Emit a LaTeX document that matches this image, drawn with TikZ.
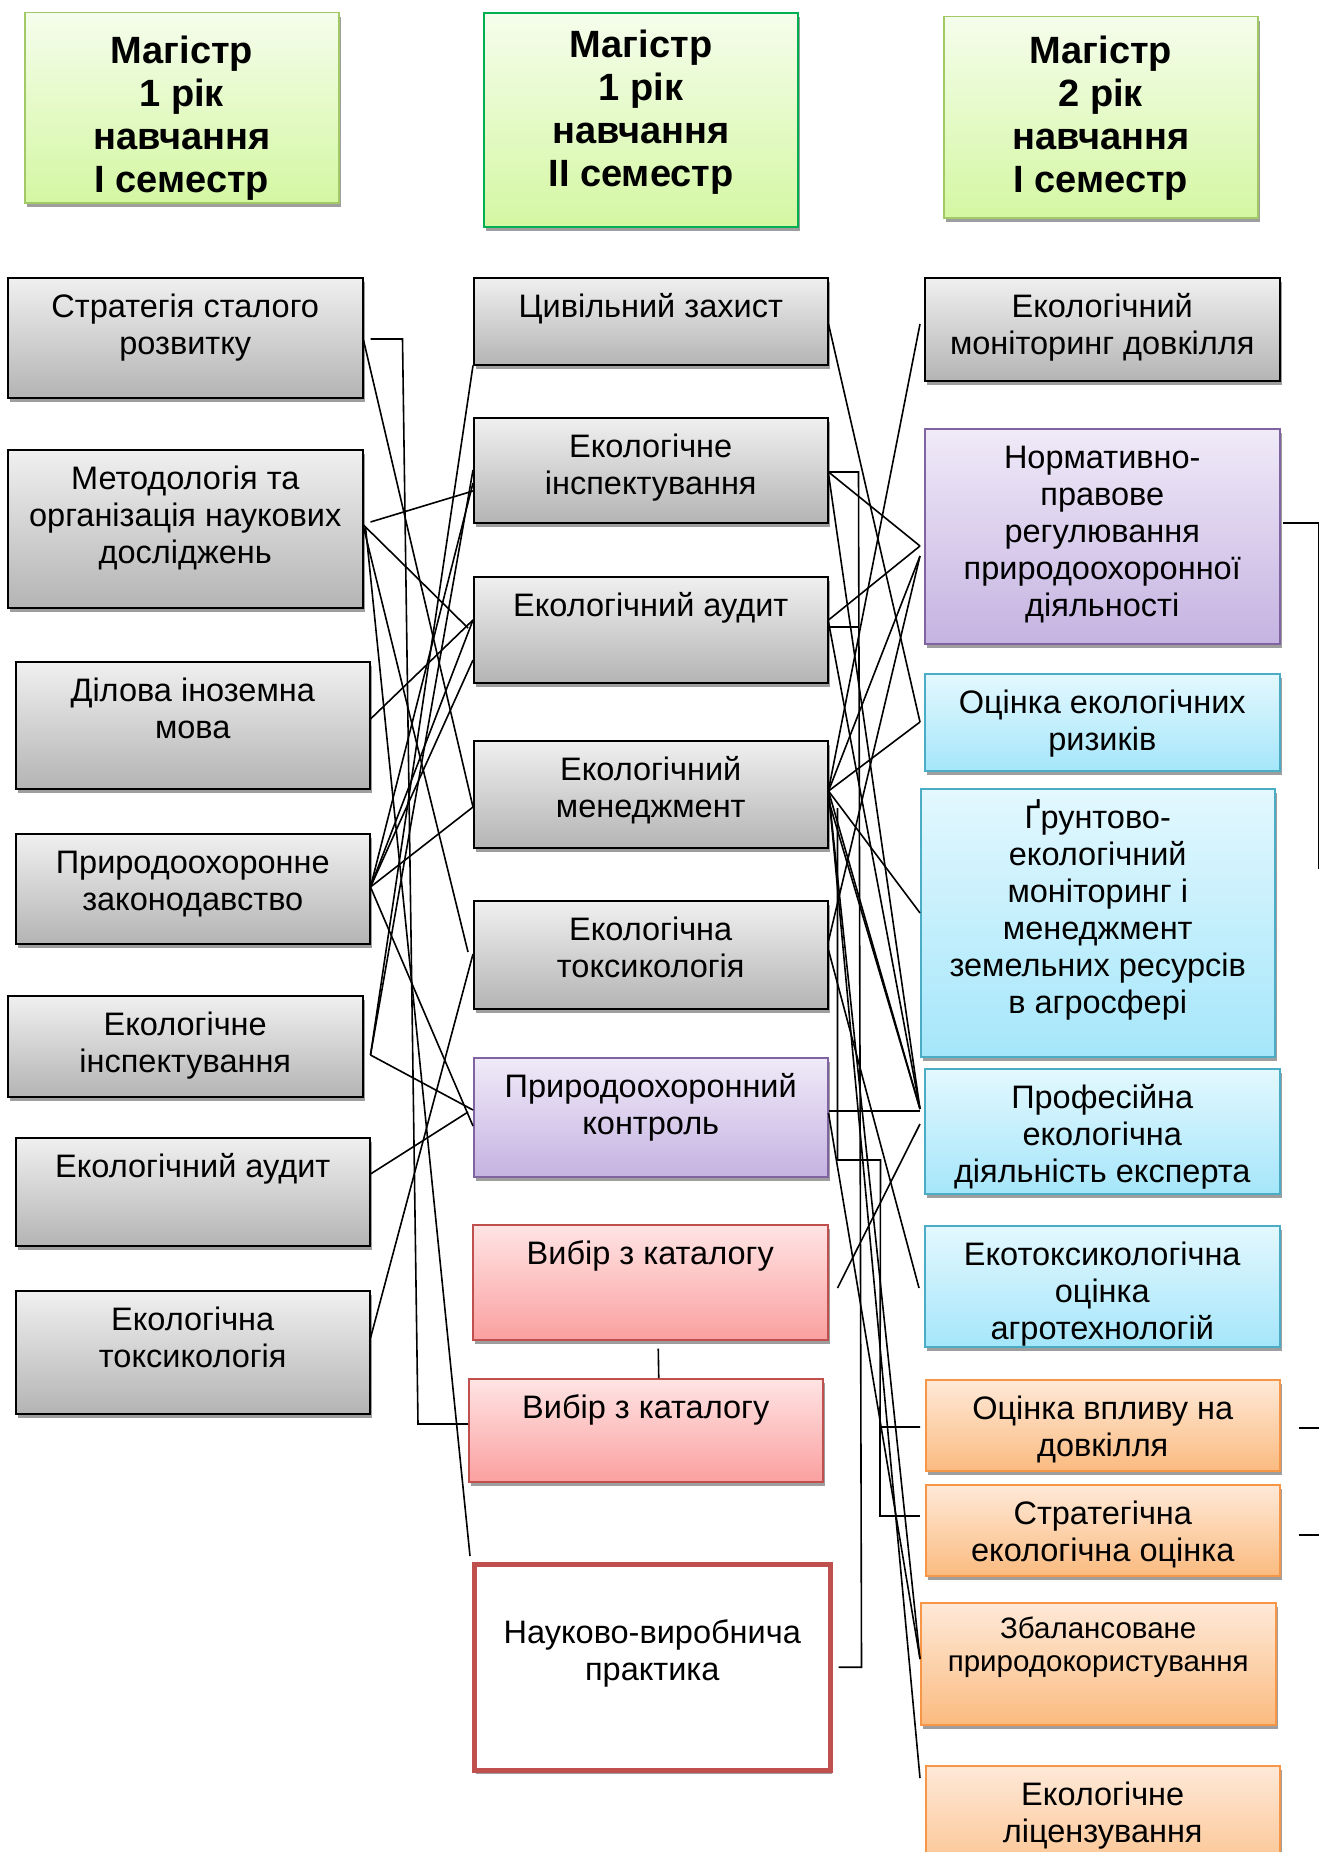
\documentclass[tikz,border=0pt]{standalone}
\usepackage{fontspec}
\setmainfont{Liberation Sans}
\usetikzlibrary{shadows}

\definecolor{greytop}{HTML}{F0F0F0}
\definecolor{greybot}{HTML}{B4B4B4}
\definecolor{greentop}{HTML}{F5FDEC}
\definecolor{greenbot}{HTML}{D4F7A2}
\definecolor{greenline}{HTML}{A3C866}
\definecolor{greenbright}{HTML}{00B050}
\definecolor{lilactop}{HTML}{F0EAF8}
\definecolor{lilacbot}{HTML}{C5B3E1}
\definecolor{lilacline}{HTML}{8064A2}
\definecolor{skytop}{HTML}{E3F8FE}
\definecolor{skybot}{HTML}{A5E6FA}
\definecolor{skyline}{HTML}{4BACC6}
\definecolor{rosetop}{HTML}{FFE4E4}
\definecolor{rosebot}{HTML}{FBA0A0}
\definecolor{roseline}{HTML}{C0504D}
\definecolor{peachtop}{HTML}{FEE9D8}
\definecolor{peachbot}{HTML}{FBBB80}
\definecolor{peachline}{HTML}{F79646}

% text of a box: top aligned, first baseline #1 below the top
\newcommand{\cbox}[4][40pt]{\parbox[c][#3][t]{#2}{\centering\rule{0pt}{#1}#4}}

\tikzset{
  course/.style={rectangle, inner sep=0pt, anchor=north west, line width=1.5pt,
    font=\fontsize{32.5}{37}\selectfont,
    drop shadow={shadow xshift=2pt, shadow yshift=-4pt, fill=black!38, opacity=1}},
  greybox/.style={course, draw=black, top color=greytop, bottom color=greybot},
  lilacbox/.style={course, draw=lilacline, top color=lilactop, bottom color=lilacbot},
  skybox/.style={course, draw=skyline, top color=skytop, bottom color=skybot},
  rosebox/.style={course, draw=roseline, top color=rosetop, bottom color=rosebot},
  peachbox/.style={course, draw=peachline, top color=peachtop, bottom color=peachbot},
  practicebox/.style={course, draw=roseline, fill=white, line width=4.5pt},
  yearbox/.style={course, draw=greenline, top color=greentop, bottom color=greenbot,
    font=\bfseries\fontsize{38}{43}\selectfont},
  link/.style={line width=1.6pt}
}

\begin{document}
\begin{tikzpicture}[x=1pt,y=-1pt]
\useasboundingbox (0,0) rectangle (1319,1852);

% headers
\node[yearbox] (H1) at (24,12) {\cbox[51pt]{314pt}{190pt}{Магістр\\1 рік\\навчання\\І семестр}};
\node[yearbox, draw=greenbright, line width=2pt] (H2) at (483,12) {\cbox[44pt]{314pt}{214pt}{Магістр\\1 рік\\навчання\\ІІ семестр}};
\node[yearbox] (H3) at (943,16) {\cbox[47pt]{314pt}{201pt}{Магістр\\2 рік\\навчання\\І семестр}};

% first semester
\node[greybox] (L1) at (7,277) {\cbox{355pt}{120pt}{Стратегія сталого\\розвитку}};
\node[greybox] (L2) at (7,449) {\cbox{355pt}{158pt}{Методологія та\\організація наукових\\досліджень}};
\node[greybox] (L3) at (15,661) {\cbox{354pt}{127pt}{Ділова іноземна\\мова}};
\node[greybox] (L4) at (15,833) {\cbox{354pt}{110pt}{Природоохоронне\\законодавство}};
\node[greybox] (L5) at (7,995) {\cbox{355pt}{101pt}{Екологічне\\інспектування}};
\node[greybox] (L6) at (15,1137) {\cbox{354pt}{108pt}{Екологічний аудит}};
\node[greybox] (L7) at (15,1290) {\cbox{354pt}{123pt}{Екологічна\\токсикологія}};

% second semester
\node[greybox] (M1) at (473,277) {\cbox{354pt}{87pt}{Цивільний захист}};
\node[greybox] (M2) at (473,417) {\cbox{354pt}{105pt}{Екологічне\\інспектування}};
\node[greybox] (M3) at (473,576) {\cbox{354pt}{106pt}{Екологічний аудит}};
\node[greybox] (M4) at (473,740) {\cbox{354pt}{107pt}{Екологічний\\менеджмент}};
\node[greybox] (M5) at (473,900) {\cbox{354pt}{108pt}{Екологічна\\токсикологія}};
\node[lilacbox] (M6) at (473,1057) {\cbox{354pt}{119pt}{Природоохоронний\\контроль}};
\node[rosebox] (M7) at (472,1224) {\cbox{355pt}{115pt}{Вибір з каталогу}};
\node[rosebox] (M8) at (468,1378) {\cbox{354pt}{103pt}{Вибір з каталогу}};
\node[practicebox] (M9) at (472,1562) {\cbox[79pt]{356pt}{206pt}{Науково-виробнича\\практика}};

% third semester
\node[greybox] (R1) at (924,277) {\cbox{355pt}{103pt}{Екологічний\\моніторинг довкілля}};
\node[lilacbox] (R2) at (924,428) {\cbox{355pt}{215pt}{Нормативно-\\правове\\регулювання\\природоохоронної\\діяльності}};
\node[skybox] (R3) at (924,673) {\cbox{355pt}{97pt}{Оцінка екологічних\\ризиків}};
\node[skybox] (R4) at (920,788) {\cbox{354pt}{268pt}{Ґрунтово-\\екологічний\\моніторинг і\\менеджмент\\земельних ресурсів\\в агросфері}};
\node[skybox] (R5) at (924,1068) {\cbox{355pt}{125pt}{Професійна\\екологічна\\діяльність експерта}};
\node[skybox] (R6) at (924,1225) {\cbox{355pt}{121pt}{Екотоксикологічна\\оцінка\\агротехнологій}};
\node[peachbox] (R7) at (925,1379) {\cbox{354pt}{91pt}{Оцінка впливу на\\довкілля}};
\node[peachbox] (R8) at (925,1484) {\cbox{354pt}{91pt}{Стратегічна\\екологічна оцінка}};
\node[peachbox, font=\fontsize{29.5}{33}\selectfont] (R9) at (920,1602) {\cbox[36pt]{355pt}{122pt}{Збалансоване\\природокористування}};
\node[peachbox] (R10) at (925,1765) {\cbox{354pt}{130pt}{Екологічне\\ліцензування}};

% links first -> second semester
\draw[link] ([yshift=-63pt]L1.north east) -- ([yshift=-67pt]M4.north west);
\draw[link] ([xshift=7pt,yshift=-62pt]L1.north east) -- ++(32,0) -- ([xshift=-50pt,yshift=-46pt]M8.north west) -- ([yshift=-46pt]M8.north west);
\draw[link] ([xshift=7pt,yshift=-73pt]L2.north east) -- ([yshift=-74pt]M2.north west);
\draw[link] ([yshift=-76pt]L2.north east) -- ([xshift=-5pt,yshift=-52pt]M3.north west);
\draw[link] ([yshift=-78pt]L2.north east) -- ([xshift=-5pt,yshift=-52pt]M5.north west);
\draw[link] ([xshift=2pt,yshift=-78pt]L2.north east) -- ([xshift=-2pt,yshift=6pt]M9.north west);
\draw[link] ([yshift=-58pt]L3.north east) -- ([yshift=-44pt]M3.north west);
\foreach \target/\dy in {M2/-66pt, M3/-44pt, M3/-84pt, M4/-67pt, M6/-69pt}
  \draw[link] ([yshift=-54pt]L4.north east) -- ([yshift=\dy]\target.north west);
\draw[link] ([xshift=7pt,yshift=-60pt]L5.north east) -- (M1.south west);
\draw[link] ([xshift=7pt,yshift=-60pt]L5.north east) -- ([yshift=-53pt]M2.north west);
\draw[link] ([xshift=7pt,yshift=-60pt]L5.north east) -- ([yshift=-53pt]M6.north west);
\draw[link] ([yshift=-37pt]L6.north east) -- ([xshift=-5pt,yshift=-55pt]M6.north west);
\draw[link] ([yshift=-48pt]L7.north east) -- ([yshift=-54pt]M5.north west);
\draw[link] ([xshift=8pt,yshift=-8pt]M7.south) -- ([xshift=13pt]M8.north);

% links second -> third semester
\draw[link] ([yshift=-47pt]M1.north east) -- ([xshift=-4pt,yshift=-49pt]R3.north west);
\draw[link] ([xshift=-4pt,yshift=-47pt]R1.north west) -- ([yshift=-50pt]M4.north east);
\draw[link] ([yshift=-55pt]M2.north east) -- ([xshift=-4pt,yshift=-118pt]R2.north west);
\draw[link] ([yshift=-57pt]M2.north east) -- ([xshift=-4pt,yshift=-41pt]R5.north west);
\draw[link] ([yshift=-55pt]M2.north east) -- ++(30,0) -- ([xshift=29pt]M9.east) -- ([xshift=6pt]M9.east);
\draw[link] ([yshift=-51pt]M3.north east) -- ++(30,0);
\draw[link] ([yshift=-44pt]M3.north east) -- ([xshift=-4pt,yshift=-118pt]R2.north west);
\draw[link] ([yshift=-46pt]M3.north east) -- ([xshift=-4pt,yshift=-41pt]R5.north west);
\foreach \target/\dx/\dy in {R2/-4pt/-128pt, R3/-4pt/-49pt, R4/0pt/-125pt, R5/-4pt/-41pt, R9/0pt/-57pt, R10/-5pt/-13pt}
  \draw[link] ([yshift=-51pt]M4.north east) -- ([xshift=\dx,yshift=\dy]\target.north west);
\draw[link] ([yshift=-60pt]M4.north east) -- ([xshift=-4pt,yshift=-41pt]R5.north west);
\draw[link] ([xshift=9pt,yshift=-68pt]M4.north east) -- ([xshift=9pt,yshift=-420pt]M4.north east) -- ++(43,0)
  -- ([xshift=-45pt,yshift=-48pt]R7.north west) -- ([xshift=-5pt,yshift=-48pt]R7.north west);
\draw[link] ([xshift=-45pt,yshift=-48pt]R7.north west) -- ([xshift=-45pt,yshift=-32pt]R8.north west) -- ([xshift=-5pt,yshift=-32pt]R8.north west);
\draw[link] ([yshift=-41pt]M5.north east) -- ([xshift=-4pt,yshift=-128pt]R2.north west);
\draw[link] ([yshift=-50pt]M5.north east) -- ([xshift=-5pt,yshift=-63pt]R6.north west);
\draw[link] ([yshift=-54pt]M6.north east) -- ([xshift=-4pt,yshift=-43pt]R5.north west);
\draw[link] ([yshift=-56pt]M6.north east) -- ([yshift=-57pt]R9.north west);
\draw[link] ([xshift=9pt,yshift=-64pt]M7.north east) -- ([xshift=-4pt,yshift=-56pt]R5.north west);

% links leaving the picture
\draw[link] ([xshift=2pt,yshift=-95pt]R2.north east) -- ++(36,0) -- ++(0,346);
\draw[link] ([xshift=18pt,yshift=-49pt]R7.north east) -- ++(22,0);
\draw[link] ([xshift=18pt,yshift=-51pt]R8.north east) -- ++(22,0);
\end{tikzpicture}
\end{document}
